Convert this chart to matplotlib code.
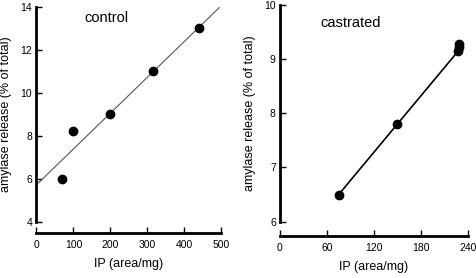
import matplotlib
matplotlib.use("Agg")
import matplotlib.pyplot as plt

plt.rcParams['font.family'] = ['Liberation Sans', 'DejaVu Sans']

# control
ctrl_x = [70, 100, 200, 315, 440]
ctrl_y = [6.0, 8.2, 9.0, 11.0, 13.0]
ctrl_fit_x = [5, 495]
ctrl_fit_y = [5.8, 13.95]

# castrated
cast_x = [75, 150, 228, 229, 229]
cast_y = [6.5, 7.8, 9.15, 9.22, 9.28]
cast_line_x = [75, 150, 228]
cast_line_y = [6.5, 7.8, 9.15]

fig = plt.figure(figsize=(4.77, 2.78), dpi=100)
ax1 = fig.add_axes([0.0765, 0.2025, 0.387, 0.774])
ax2 = fig.add_axes([0.587, 0.2025, 0.3935, 0.780])


def style(ax, offset):
    for s in ['top', 'right']:
        ax.spines[s].set_visible(False)
    ax.spines['left'].set_linewidth(2)
    ax.spines['bottom'].set_linewidth(2)
    ax.spines['bottom'].set_position(('outward', offset))
    ax.tick_params(direction='in', length=4, width=1, labelsize=7.5, pad=3)
    ax.tick_params(axis='x', pad=5)
    ax.set_xlabel('IP (area/mg)', fontsize=9, labelpad=6)
    ax.set_ylabel('amylase release (% of total)', fontsize=9, labelpad=6)


ax1.plot(ctrl_fit_x, ctrl_fit_y, color='#555555', lw=0.8)
ax1.plot(ctrl_x, ctrl_y, 'o', color='black', ms=6)
ax1.set_xlim(0, 500)
ax1.set_ylim(4, 14)
ax1.set_xticks([0, 100, 200, 300, 400, 500])
ax1.set_yticks([4, 6, 8, 10, 12, 14])
ax1.text(130, 13.3, 'control', fontsize=10.5)
style(ax1, 8)

ax2.plot(cast_line_x, cast_line_y, color='black', lw=1.2)
ax2.plot(cast_x, cast_y, 'o', color='black', ms=6)
ax2.set_xlim(0, 240)
ax2.set_ylim(6, 10)
ax2.set_xticks([0, 60, 120, 180, 240])
ax2.set_yticks([6, 7, 8, 9, 10])
ax2.text(51, 9.6, 'castrated', fontsize=10.5)
style(ax2, 10)

fig.savefig('out.png', dpi=100)
